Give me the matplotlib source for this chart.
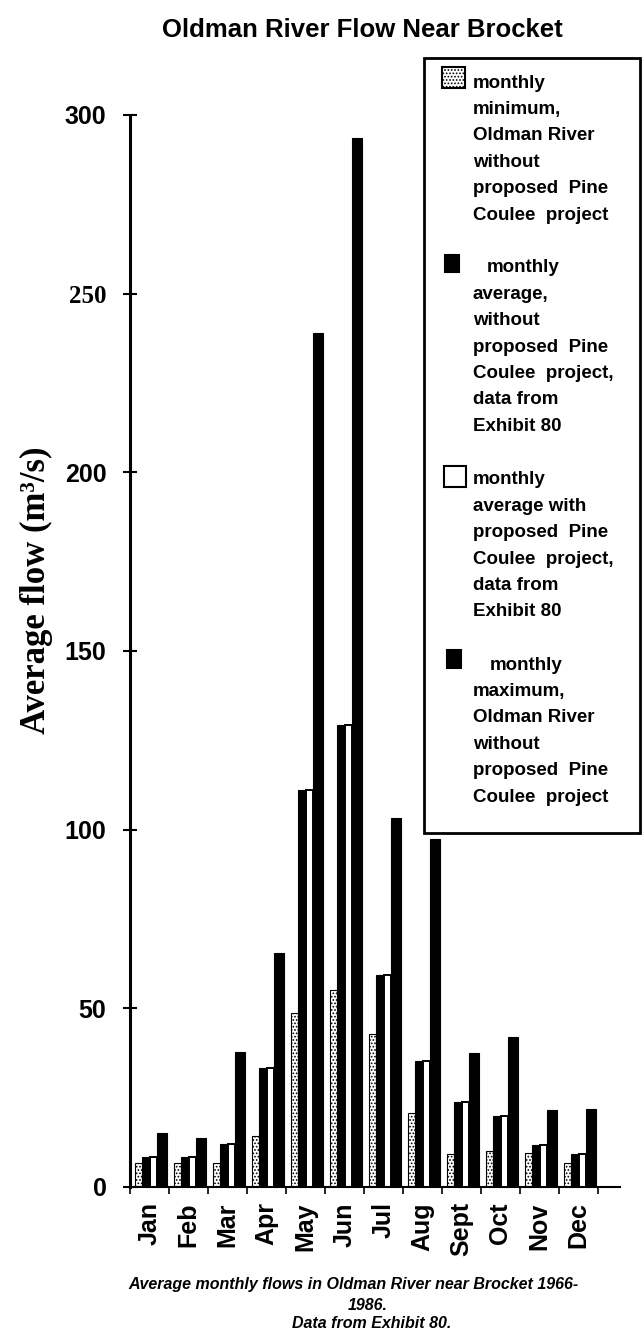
import matplotlib
matplotlib.use('Agg')
import matplotlib.pyplot as plt
from matplotlib.patches import Rectangle
import numpy as np

plt.rcParams['font.family'] = ['Liberation Sans', 'DejaVu Sans']
plt.rcParams['hatch.linewidth'] = 0.8

# values (m3/s)
months = ['Jan', 'Feb', 'Mar', 'Apr', 'May', 'Jun', 'Jul', 'Aug', 'Sept', 'Oct', 'Nov', 'Dec']
min_flow = [6.6, 6.6, 6.8, 14.4, 48.6, 55.0, 42.7, 20.6, 9.2, 10.1, 9.6, 6.8]
avg_without = [8.5, 8.5, 12.0, 33.2, 111.2, 129.4, 59.3, 35.2, 23.7, 19.9, 11.7, 9.1]
avg_with = [8.5, 8.5, 12.0, 33.2, 111.2, 129.4, 59.3, 35.2, 23.7, 19.9, 11.7, 9.1]
max_flow = [15.2, 13.6, 37.8, 65.6, 239.0, 293.5, 103.4, 97.5, 37.4, 41.9, 21.5, 21.7]
yticks = [0, 50, 100, 150, 200, 250, 300]

legend_entries = [
    ['monthly', 'minimum,', 'Oldman River', 'without', 'proposed  Pine', 'Coulee  project'],
    ['monthly', 'average,', 'without', 'proposed  Pine', 'Coulee  project,', 'data from', 'Exhibit 80'],
    ['monthly', 'average with', 'proposed  Pine', 'Coulee  project,', 'data from', 'Exhibit 80'],
    ['monthly', 'maximum,', 'Oldman River', 'without', 'proposed  Pine', 'Coulee  project'],
]

W, H = 644, 1333
fig = plt.figure(figsize=(W / 100, H / 100), dpi=100)
ax = fig.add_axes([130 / W, (H - 1187) / H, 490 / W, (1187 - 115) / H])

x = np.arange(len(months))
ax.bar(x - 0.29, min_flow, 0.18, color='white', edgecolor='black', hatch='.....', linewidth=0.8)
ax.bar(x - 0.10, avg_without, 0.20, color='black', edgecolor='black', linewidth=0.8)
ax.bar(x + 0.10, avg_with, 0.20, color='white', edgecolor='black', linewidth=1.4)
ax.bar(x + 0.32, max_flow, 0.26, color='black', edgecolor='black', linewidth=0.8)

ax.set_xlim(-0.5, -0.5 + 490 / 39)
ax.set_ylim(0, 300)
for s in ['top', 'right']:
    ax.spines[s].set_visible(False)
ax.spines['left'].set_linewidth(2.2)
ax.spines['bottom'].set_linewidth(1.5)

ax.set_yticks(yticks)
ax.set_yticklabels([str(t) for t in yticks], fontsize=18, fontweight='bold')
ax.tick_params(axis='y', direction='inout', length=10, width=1.5, pad=12)
for lab in ax.get_yticklabels():
    if lab.get_text() == '250':
        lab.set_family('Liberation Serif')

ax.set_xticks(x)
ax.set_xticklabels(months, rotation=90, fontsize=18, fontweight='bold')
ax.tick_params(axis='x', which='major', length=0, pad=11)
ax.set_xticks(np.arange(-0.5, 12, 1), minor=True)
ax.tick_params(axis='x', which='minor', direction='out', length=5, width=1.2)

# overlay in pixel coordinates for title, axis label, legend box and caption
ov = fig.add_axes([0, 0, 1, 1], zorder=5)
ov.set_xlim(0, W)
ov.set_ylim(H, 0)
ov.axis('off')
ov.patch.set_alpha(0)

ov.text(362, 30, 'Oldman River Flow Near Brocket', ha='center', va='center',
        fontsize=18.5, fontweight='bold')

ov.text(36, 590, 'Average flow (m³/s)', rotation=90, ha='center', va='center',
        fontsize=25, fontweight='bold', family='Liberation Serif')

ov.add_patch(Rectangle((424, 58), 216, 775, facecolor='white', edgecolor='black', linewidth=2))

swatches = [
    dict(xy=(442, 67), w=23, h=21, fc='white', hatch='.....'),
    dict(xy=(445, 255), w=14, h=17, fc='black', hatch=None),
    dict(xy=(444, 466), w=22, h=21, fc='white', hatch=None),
    dict(xy=(447, 650), w=14, h=18, fc='black', hatch=None),
]
first_y = [83, 268, 480, 665]
first_x = [473, 487, 473, 490]
step = 26.4
for sw, lines, y0, x0 in zip(swatches, legend_entries, first_y, first_x):
    ov.add_patch(Rectangle(sw['xy'], sw['w'], sw['h'], facecolor=sw['fc'],
                           edgecolor='black', hatch=sw['hatch'], linewidth=1.5))
    for k, line in enumerate(lines):
        ov.text(x0 if k == 0 else 473, y0 + k * step, line, ha='left', va='center',
                fontsize=13.5, fontweight='bold')

caption = ['Average monthly flows in Oldman River near Brocket 1966-', '1986.', 'Data from Exhibit 80.']
caption_y = [1285, 1305, 1323]
caption_x = [353, 368, 372]
for line, cx, cy in zip(caption, caption_x, caption_y):
    ov.text(cx, cy, line, ha='center', va='center', fontsize=11.5,
            fontweight='bold', fontstyle='italic')

fig.savefig('out.png', dpi=100)
